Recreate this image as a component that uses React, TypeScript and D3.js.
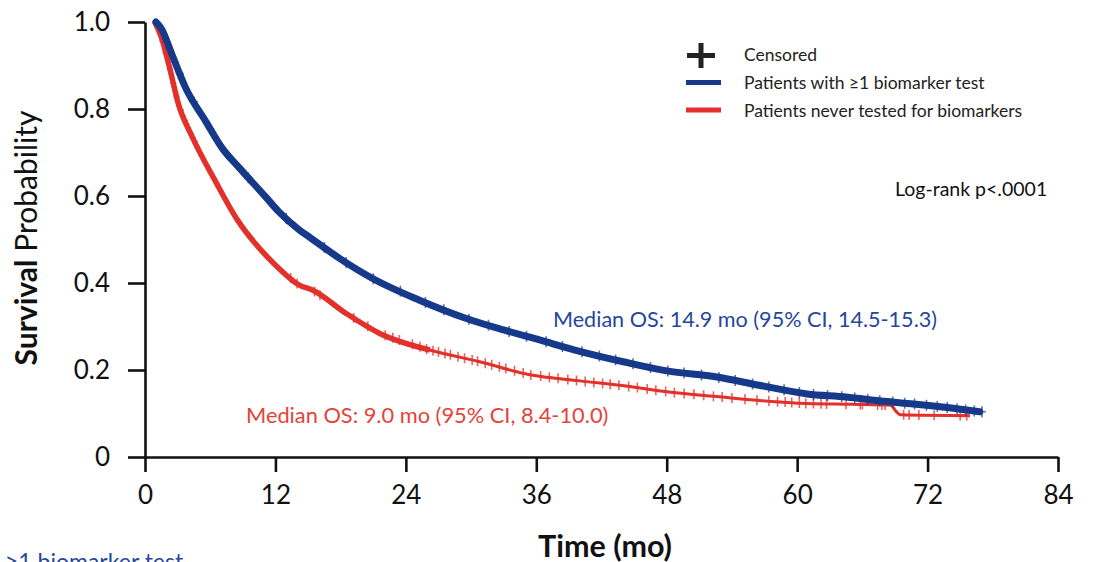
import React, { useEffect, useRef } from "react";
import * as d3 from "d3";

// ---- data ----
const xTickValues = [0, 12, 24, 36, 48, 60, 72, 84];
const yTickValues = [0, 0.2, 0.4, 0.6, 0.8, 1.0];
const yTickLabels = ["0", "0.2", "0.4", "0.6", "0.8", "1.0"];

const blueTime = [1.0, 1.5, 2.5, 3.75, 5.6, 7.1, 8.7, 11.1, 12.3, 14.2, 15.1, 18.0, 20.9, 25.2, 29.5, 33.0, 36.3, 40.0, 44.0, 48.0, 52.6, 56.5, 60.9, 64.5, 68.0, 70.7, 74.0, 76.8];
const blueSurv = [1.0, 0.985, 0.924, 0.848, 0.771, 0.71, 0.664, 0.598, 0.564, 0.522, 0.506, 0.455, 0.411, 0.361, 0.319, 0.292, 0.269, 0.243, 0.219, 0.198, 0.184, 0.165, 0.145, 0.138, 0.128, 0.122, 0.113, 0.104];

const redTime = [0.9, 1.5, 2.2, 3.1, 4.4, 6.5, 8.4, 11.1, 12.3, 14.2, 15.4, 18.5, 21.6, 26.2, 30.8, 35.4, 40.0, 44.6, 48.0, 52.6, 56.5, 60.9, 65.0, 68.6, 69.1, 69.5, 75.9];
const redSurv = [1.0, 0.965, 0.901, 0.809, 0.733, 0.633, 0.549, 0.464, 0.434, 0.395, 0.384, 0.33, 0.284, 0.246, 0.219, 0.189, 0.175, 0.162, 0.15, 0.139, 0.13, 0.123, 0.121, 0.119, 0.105, 0.097, 0.095];

const blueCensor = [2.0, 3.2, 4.5, 6.0, 9.5, 13.0, 16.5, 18.5, 21.0, 23.5, 25.8, 27.5, 29.8, 31.6, 33.5, 35.1, 36.9, 38.4, 40.2, 41.8, 43.3, 44.9, 46.5, 48.1, 49.6, 51.2, 52.8, 54.3, 55.9, 57.4, 58.8, 60.2, 61.5, 62.8, 64.1, 65.3, 66.5, 67.6, 68.8, 69.9, 70.8, 71.9, 72.9, 73.8, 74.7, 75.5, 76.3, 77.0];
const redCensor = [1.6, 1.9, 2.3, 2.6, 2.9, 3.3, 3.7, 4.0, 4.4, 4.8, 13.4, 14.0, 15.6, 16.1, 19.2, 20.5, 22.1, 22.8, 23.4, 24.6, 25.3, 25.9, 26.5, 27.0, 27.6, 28.1, 28.8, 29.4, 30.1, 30.6, 31.3, 31.9, 32.6, 33.2, 34.0, 34.8, 35.5, 36.4, 37.2, 38.0, 38.9, 39.7, 40.5, 41.3, 42.1, 42.8, 43.6, 44.5, 45.3, 46.2, 47.0, 47.9, 48.7, 49.6, 50.5, 51.4, 52.3, 53.1, 54.0, 55.2, 56.3, 57.4, 58.2, 58.9, 59.5, 60.2, 60.8, 61.5, 62.2, 62.7, 64.5, 65.8, 66.0, 67.4, 67.8, 68.1, 69.8, 70.3, 71.2, 72.6, 75.0, 75.6];

const seriesNames = ["Patients with \u22651 biomarker test", "Patients never tested for biomarkers"];
const censorLabel = "Censored";
const blueMedianLabel = "Median OS: 14.9 mo (95% CI, 14.5-15.3)";
const redMedianLabel = "Median OS: 9.0 mo (95% CI, 8.4-10.0)";
const logRankLabel = "Log-rank p<.0001";
const xTitle = "Time (mo)";
const yTitleBold = "Survival";
const yTitleRest = " Probability";
const clippedLabel = "\u22651 biomarker test";

// ---- layout ----
const W = 1094;
const H = 562;
const BLUE = "#17398a";
const RED = "#e3302a";
const BLUE_TEXT = "#26479a";
const RED_TEXT = "#e5433a";
const FONT = "Lato, 'Open Sans', sans-serif";

const x = d3.scaleLinear().domain([0, 84]).range([145, 1058]);
const y = d3.scaleLinear().domain([0, 1]).range([457, 22]);

function survAt(times: number[], surv: number[], t: number) {
  const i = d3.bisectRight(times, t);
  if (i <= 0) return surv[0];
  if (i >= times.length) return surv[surv.length - 1];
  const t0 = times[i - 1], t1 = times[i];
  const f = (t - t0) / (t1 - t0);
  return surv[i - 1] + f * (surv[i] - surv[i - 1]);
}

const line = d3
  .line<[number, number]>()
  .x((d) => x(d[0]))
  .y((d) => y(d[1]))
  .curve(d3.curveMonotoneX);

const bluePts: [number, number][] = blueTime.map((t, i) => [t, blueSurv[i]]);
const redPts: [number, number][] = redTime.map((t, i) => [t, redSurv[i]]);
const redEarly = redPts.filter((d) => d[0] <= 26.2);

function plus(cx: number, cy: number, w: number, h: number) {
  return `M${cx - w},${cy}H${cx + w}M${cx},${cy - h}V${cy + h}`;
}

export default function App() {
  const xAxisRef = useRef<SVGGElement>(null);
  const yAxisRef = useRef<SVGGElement>(null);

  useEffect(() => {
    const xa = d3
      .axisBottom(x)
      .tickValues(xTickValues)
      .tickSize(15)
      .tickSizeOuter(0)
      .tickPadding(14)
      .tickFormat((d) => String(d));
    const ya = d3
      .axisLeft(y)
      .tickValues(yTickValues)
      .tickSize(17)
      .tickSizeOuter(0)
      .tickPadding(18)
      .tickFormat((d, i) => yTickLabels[i]);
    const gx = d3.select(xAxisRef.current!);
    gx.call(xa as any);
    const gy = d3.select(yAxisRef.current!);
    gy.call(ya as any);
    [gx, gy].forEach((g) => {
      g.selectAll("path.domain").attr("stroke", "#111").attr("stroke-width", 2.6);
      g.selectAll(".tick line").attr("stroke", "#111").attr("stroke-width", 2.6);
      g.selectAll(".tick text")
        .attr("fill", "#111")
        .style("font-family", FONT)
        .style("font-size", "26px");
    });
  }, []);

  return (
    <svg
      width={W}
      height={H}
      style={{ position: "absolute", left: 0, top: 0, background: "#fff" }}
    >
      <rect x={0} y={0} width={W} height={H} fill="#fff" />
      <g ref={yAxisRef} transform={`translate(${x(0)},0)`} />
      <g ref={xAxisRef} transform={`translate(0,${y(0)})`} />

      {/* red curve */}
      <path d={line(redPts) || ""} fill="none" stroke={RED} strokeWidth={3} />
      <path d={line(redEarly) || ""} fill="none" stroke={RED} strokeWidth={5.5} />
      <g stroke={RED} strokeWidth={1.6} opacity={0.75} fill="none">
        {redCensor.map((t, i) => (
          <path key={i} d={plus(x(t), y(survAt(redTime, redSurv, t)), 3, 5)} />
        ))}
      </g>

      {/* blue curve */}
      <path d={line(bluePts) || ""} fill="none" stroke={BLUE} strokeWidth={7} strokeLinecap="round" />
      <g stroke={BLUE} strokeWidth={1.6} opacity={0.7} fill="none">
        {blueCensor.map((t, i) => (
          <path key={i} d={plus(x(t), y(survAt(blueTime, blueSurv, t)), 4, 5.5)} />
        ))}
      </g>

      {/* median labels */}
      <text x={553} y={327} fill={BLUE_TEXT} style={{ fontFamily: FONT, fontSize: 21.6 }}>
        {blueMedianLabel}
      </text>
      <text x={246} y={423} fill={RED_TEXT} style={{ fontFamily: FONT, fontSize: 21.8 }}>
        {redMedianLabel}
      </text>

      {/* legend */}
      <path d={plus(701, 55.5, 14, 12.5)} stroke="#222" strokeWidth={5} fill="none" />
      <line x1={686} x2={721} y1={82.5} y2={82.5} stroke={BLUE} strokeWidth={5} />
      <line x1={686} x2={721} y1={110} y2={110} stroke={RED} strokeWidth={5} />
      <g fill="#222" style={{ fontFamily: FONT, fontSize: 17.5 }}>
        <text x={744} y={61}>{censorLabel}</text>
        <text x={744} y={89}>{seriesNames[0]}</text>
        <text x={744} y={117}>{seriesNames[1]}</text>
      </g>

      <text x={895} y={196} fill="#111" style={{ fontFamily: FONT, fontSize: 19.5 }}>
        {logRankLabel}
      </text>

      {/* axis titles */}
      <text
        x={605}
        y={557}
        textAnchor="middle"
        fill="#111"
        style={{ fontFamily: FONT, fontSize: 30.5, fontWeight: 700 }}
      >
        {xTitle}
      </text>
      <text
        transform={`translate(37,238) rotate(-90)`}
        textAnchor="middle"
        fill="#111"
        style={{ fontFamily: FONT, fontSize: 30 }}
      >
        <tspan fontWeight={700}>{yTitleBold}</tspan>
        <tspan>{yTitleRest}</tspan>
      </text>

      {/* clipped label at bottom-left (cut off by the frame in the reference too) */}
      <text x={5} y={570} fill={BLUE_TEXT} style={{ fontFamily: FONT, fontSize: 23 }}>
        {clippedLabel}
      </text>
    </svg>
  );
}
